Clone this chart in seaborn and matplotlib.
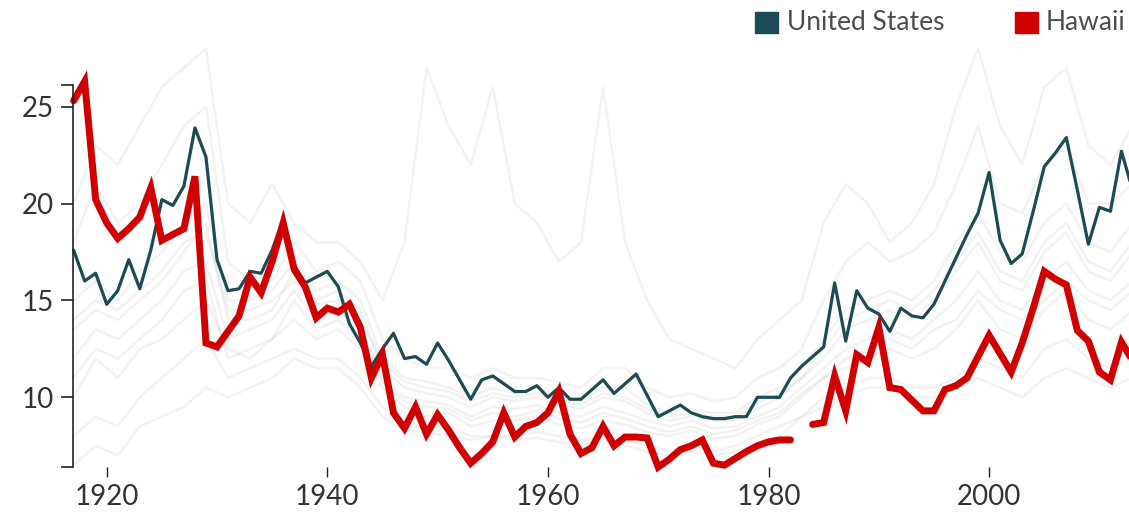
import numpy as np
import pandas as pd
import matplotlib
matplotlib.use("Agg")
import matplotlib.pyplot as plt
from matplotlib.patches import Rectangle
import seaborn as sns

# ---------------- data ----------------
years = list(range(1917, 2014))

united_states = [
    17.6, 16.0, 16.4, 14.8, 15.5, 17.1, 15.6, 17.6, 20.2, 19.9,
    20.9, 23.9, 22.4, 17.1, 15.5, 15.6, 16.5, 16.4, 17.6, 19.2,
    16.8, 15.9, 16.2, 16.5, 15.7, 13.8, 12.8, 11.6, 12.5, 13.3,
    12.0, 12.1, 11.7, 12.8, 11.9, 10.9, 9.9, 10.9, 11.1, 10.7,
    10.3, 10.3, 10.6, 10.0, 10.5, 9.9, 9.9, 10.4, 10.9, 10.2,
    10.7, 11.2, 10.1, 9.0, 9.3, 9.6, 9.2, 9.0, 8.9, 8.9,
    9.0, 9.0, 10.0, 10.0, 10.0, 11.0, 11.6, 12.1, 12.6, 15.9,
    12.9, 15.5, 14.6, 14.3, 13.4, 14.6, 14.2, 14.1, 14.8, 16.0,
    17.2, 18.4, 19.5, 21.6, 18.1, 16.9, 17.4, 19.6, 21.9, 22.6,
    23.4, 20.7, 17.9, 19.8, 19.6, 22.7, 20.7,
]

hawaii = [
    25.3, 26.3, 20.2, 19.0, 18.2, 18.7, 19.3, 20.8, 18.1, 18.4,
    18.7, 21.4, 12.8, 12.6, 13.4, 14.2, 16.2, 15.4, 17.0, 19.0,
    16.6, 15.7, 14.1, 14.6, 14.4, 14.8, 13.6, 11.0, 12.2, 9.2,
    8.4, 9.5, 8.1, 9.1, 8.3, 7.4, 6.6, 7.1, 7.7, 9.2,
    7.95, 8.5, 8.7, 9.2, 10.3, 8.1, 7.1, 7.4, 8.5, 7.5,
    7.95, 7.95, 7.9, 6.4, 6.8, 7.3, 7.5, 7.8, 6.6, 6.5,
    6.85, 7.2, 7.5, 7.7, 7.8, 7.8, np.nan, 8.6, 8.7, 11.1,
    9.3, 12.2, 11.8, 13.6, 10.5, 10.4, 9.85, 9.3, 9.3, 10.4,
    10.6, 11.0, 12.1, 13.2, 12.25, 11.3, 12.8, 14.6, 16.5, 16.1,
    15.8, 13.45, 12.9, 11.3, 10.9, 12.85, 11.9,
]

# other states (faint background lines), read coarsely every two years
other_years = list(range(1917, 2014, 2))

state_a = [8, 9, 8.5, 10, 11, 12, 13, 11, 11.5, 12,
           12.5, 12, 12, 11, 9.5, 8.5, 8.5, 8.5, 8, 8,
           8, 8.2, 8, 7.8, 8, 7.8, 7.5, 7.2, 7.5, 7.2,
           7.5, 8, 8.5, 9, 10, 10.5, 11, 11, 10.5, 10.5,
           11, 12, 11.5, 11, 12.5, 13, 12, 11.5, 12]
state_b = [10, 12, 11, 12.5, 13, 14, 15, 12.5, 12, 13,
           14, 13, 13.5, 12.5, 10.5, 9.5, 9, 9.2, 8.5, 8.8,
           8.8, 9, 8.6, 8.4, 8.8, 8.6, 8.2, 8, 8.3, 7.9,
           8, 8.6, 9, 10, 11, 11.5, 12, 12.5, 12, 12.5,
           13.5, 15, 13.5, 13, 14.5, 15.5, 14, 13.5, 14.5]
state_c = [12, 13.5, 13, 14, 15, 16.5, 17, 13, 13.5, 14,
           15.5, 14, 14.5, 13.5, 11, 10, 9.8, 9.6, 9, 9.5,
           9.4, 9.6, 9.2, 9, 9.5, 9.2, 8.8, 8.5, 8.8, 8.4,
           8.5, 9, 9.5, 10.5, 11.5, 12.5, 13, 13.5, 13, 14,
           15, 16.5, 15, 14.5, 16, 17, 15.5, 15, 16]
state_d = [13.5, 14.5, 14, 15, 16, 17.5, 19, 14, 14, 14.5,
           16.5, 15, 15.5, 14.5, 11.5, 10.5, 10.2, 10, 9.5, 10,
           9.8, 10, 9.6, 9.4, 10, 9.8, 9.2, 8.8, 9, 8.8,
           8.8, 9.4, 10, 11, 12, 13.5, 14, 14.5, 14, 15,
           16.5, 18, 16, 15.5, 17.5, 18.5, 16.5, 16, 17.5]
state_e = [15, 16, 15, 16.5, 17.5, 19, 20, 15, 15, 15.5,
           17, 15.5, 16, 15, 12, 11, 10.8, 10.5, 10, 10.5,
           10.2, 10.5, 10, 9.8, 10.5, 10.5, 9.6, 9.2, 9.4, 9.2,
           9.2, 10, 10.5, 11.5, 13, 14.5, 15, 15.5, 15, 16,
           18, 19.5, 17.5, 17, 19, 20, 18, 17.5, 19]
state_f = [18, 21, 19, 20, 22, 24, 25, 17, 16, 16,
           18, 16.5, 17, 16, 13, 12, 11.5, 11.5, 11, 11.5,
           11, 11, 10.8, 10.5, 11.5, 11.5, 10.5, 10, 10.2, 9.8,
           10, 11, 11.5, 12.5, 15, 17, 18, 17, 17.5, 18.5,
           21, 24, 20, 19.5, 22, 23, 20, 20, 21]
state_g = [6.5, 7.5, 7, 8.5, 9, 9.5, 10.5, 10, 10.5, 11,
           12, 11.5, 11.5, 10.5, 9, 8.3, 8.2, 8, 7.8, 8,
           7.8, 7.9, 7.7, 7.5, 7.8, 7.5, 7.2, 7, 7.2, 7,
           7.2, 7.6, 8, 9, 9.5, 10, 10.5, 10.5, 10, 10,
           10.5, 11, 10.5, 10, 11, 11.5, 11, 10.5, 11]
state_h = [20, 23, 22, 24, 26, 27, 28, 20, 19, 21,
           19, 18, 18, 17, 15, 18, 27, 24, 22, 26,
           20, 19, 17, 18, 26, 18, 15, 13, 12.5, 12,
           11.5, 13, 14, 15, 19, 21, 20, 18, 19, 21,
           25, 28, 24, 22, 26, 27, 23, 22, 24]
state_i = [14, 15, 14.5, 15.5, 16.5, 18, 18.5, 14.5, 14.5, 15,
           16, 14.8, 15, 14, 11.8, 10.8, 10.5, 10.3, 9.8, 10.2,
           10, 10.2, 9.8, 9.6, 10.2, 10, 9.4, 9, 9.2, 9,
           9, 9.7, 10.2, 11, 12.5, 14, 14.5, 15, 14.5, 15.5,
           17, 18.5, 16.5, 16, 18, 19, 17, 16.5, 18]
state_j = [11, 12.5, 12, 13, 14, 15.5, 16, 12, 12.5, 13,
           15, 13.5, 14, 13, 10.8, 9.8, 9.5, 9.4, 8.8, 9.2,
           9, 9.3, 8.9, 8.7, 9.2, 8.9, 8.5, 8.2, 8.5, 8.1,
           8.3, 8.8, 9.2, 10.2, 11, 12, 12.5, 13, 12.5, 13.5,
           14, 15.5, 14.5, 14, 15, 16, 15, 14.5, 15.5]

other_states = {"a": state_a, "b": state_b, "c": state_c, "d": state_d,
                "e": state_e, "f": state_f, "g": state_g, "h": state_h,
                "i": state_i, "j": state_j}

x_ticks = [1920, 1940, 1960, 1980, 2000]
y_ticks = [10, 15, 20, 25]
legend_labels = ["United States", "Hawaii"]

US_COLOR = "#1d4b55"
HI_COLOR = "#d00000"

# ---------------- figure ----------------
sns.set_theme(style="white")
plt.rcParams["font.family"] = ["Lato", "DejaVu Sans"]

W, H = 1129, 515
fig = plt.figure(figsize=(W / 100, H / 100), dpi=100)
ax = fig.add_axes([0, 0, 1, 1])
ax.set_facecolor("white")

# pixel -> data mapping of the reference
px_per_year = 11.03
x0_px = 106.7          # 1920
px_per_unit = 19.38
y10_px = 397.3         # value 10


def year_at(px):
    return 1920 + (px - x0_px) / px_per_year


def val_at(py):
    return 10 + (y10_px - py) / px_per_unit


ax.set_xlim(year_at(0), year_at(W))
ax.set_ylim(val_at(H), val_at(0))

# background states
rows = []
for name, vals in other_states.items():
    for yr, v in zip(other_years, vals):
        rows.append({"year": yr, "value": v, "state": name})
bg = pd.DataFrame(rows)
sns.lineplot(data=bg, x="year", y="value", units="state", estimator=None,
             color="#8a8a8a", alpha=0.11, linewidth=1.8, ax=ax, legend=False)

# United States
us_df = pd.DataFrame({"year": years, "value": united_states})
sns.lineplot(data=us_df, x="year", y="value", color=US_COLOR, linewidth=2.3,
             ax=ax, legend=False)

# Hawaii, split at missing year
hi_df = pd.DataFrame({"year": years, "value": hawaii})
hi_df["segment"] = hi_df["value"].isna().cumsum()
hi_df = hi_df.dropna()
sns.lineplot(data=hi_df, x="year", y="value", units="segment", estimator=None,
             color=HI_COLOR, linewidth=5.0, ax=ax, legend=False,
             solid_joinstyle="miter")

# axes styling
y_lo, y_hi = 6.4, 26.1
x_left = year_at(72.7)
for s in ["top", "right"]:
    ax.spines[s].set_visible(False)
ax.spines["left"].set_position(("data", x_left))
ax.spines["left"].set_bounds(y_lo, y_hi)
ax.spines["left"].set_color("#222222")
ax.spines["left"].set_linewidth(1.2)
ax.spines["bottom"].set_position(("data", y_lo))
ax.spines["bottom"].set_color("none")

ax.set_yticks([y_lo] + y_ticks + [y_hi], labels=[""] + [str(t) for t in y_ticks] + [""])
ax.set_xticks(x_ticks, labels=[str(t) for t in x_ticks])
ax.tick_params(axis="y", direction="out", length=8.5, width=1.2, color="#222222",
               labelsize=20, labelcolor="#333333", pad=5, left=True)
ax.tick_params(axis="x", direction="out", length=7, width=1.0, color="#222222",
               labelsize=20, labelcolor="#333333", pad=5, bottom=True)
ax.set_xlabel("")
ax.set_ylabel("")
ax.grid(False)

# legend
def fig_rect(x, y, w, h, color):
    fig.patches.append(Rectangle((x / W, 1 - (y + h) / H), w / W, h / H,
                                 transform=fig.transFigure, color=color,
                                 figure=fig, zorder=10))

fig_rect(755, 12, 23, 21, US_COLOR)
fig.text(787 / W, 1 - 23 / H, legend_labels[0], fontsize=19, color="#4d4d4d",
         va="center", ha="left")
fig_rect(1015, 12, 23, 21, HI_COLOR)
fig.text(1046 / W, 1 - 23 / H, legend_labels[1], fontsize=19, color="#4d4d4d",
         va="center", ha="left")

fig.savefig("out.png", dpi=100)
